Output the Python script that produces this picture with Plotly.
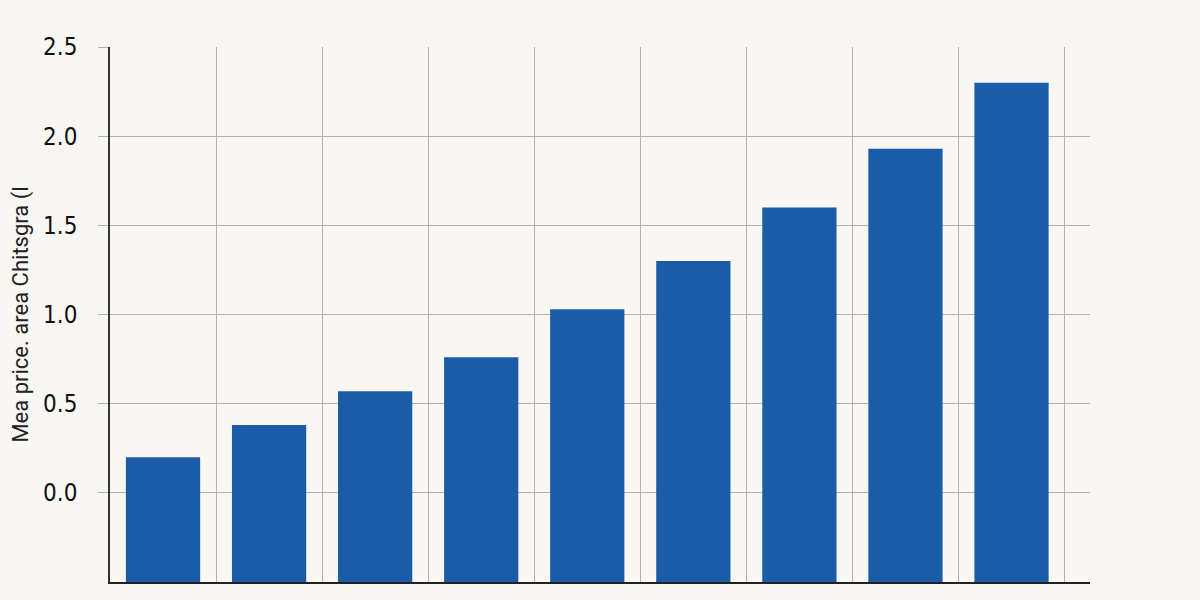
import plotly.graph_objects as go

# bar tops; bars start at the bottom of the axis (-0.5)
categories = [0, 1, 2, 3, 4, 5, 6, 7, 8]
values = [0.20, 0.38, 0.57, 0.76, 1.03, 1.30, 1.60, 1.93, 2.30]
base_value = -0.5
y_ticks = [0.0, 0.5, 1.0, 1.5, 2.0, 2.5]
y_title = "Mea price. area Chitsgra (l"

bg = "#f9f7f3"
bar_color = "#1b5ca9"
grid = "#b4b2b0"

fig = go.Figure(go.Bar(
    x=categories,
    y=[v - base_value for v in values],
    base=base_value,
    width=0.7,
    marker=dict(color=bar_color, line=dict(width=0)),
))

# page has an 8px body margin, so offsets are shifted by 8
fig.update_layout(
    width=1200, height=600,
    paper_bgcolor=bg, plot_bgcolor=bg,
    margin=dict(l=102, r=118, t=39, b=26),
    showlegend=False,
    font=dict(family="DejaVu Sans Condensed, Liberation Sans Narrow, Roboto, sans-serif", color="#111111"),
)

fig.update_xaxes(
    range=[-0.5, 8.74],
    tickvals=[c - 0.5 for c in categories] + [8.5],
    showticklabels=False,
    ticks="",
    showgrid=True, gridcolor=grid, gridwidth=1.2,
    showline=True, linecolor="#222222", linewidth=1.5,
    zeroline=False,
    automargin=False,
)

fig.update_yaxes(
    range=[-0.5, 2.5],
    tickvals=y_ticks,
    ticktext=["%.1f" % t for t in y_ticks],
    tickfont=dict(size=24),
    ticks="outside", ticklen=10, tickcolor=grid, tickwidth=1.2,
    ticklabelstandoff=16,
    showgrid=True, gridcolor=grid, gridwidth=1.2,
    showline=True, linecolor="#333333", linewidth=1.5,
    zeroline=False,
    automargin=False,
    title=dict(text=y_title, font=dict(size=22, family="Roboto, sans-serif", color="#222222"), standoff=20),
)

fig.write_html("out.html", post_script="document.body.style.background='#f9f7f3';")
